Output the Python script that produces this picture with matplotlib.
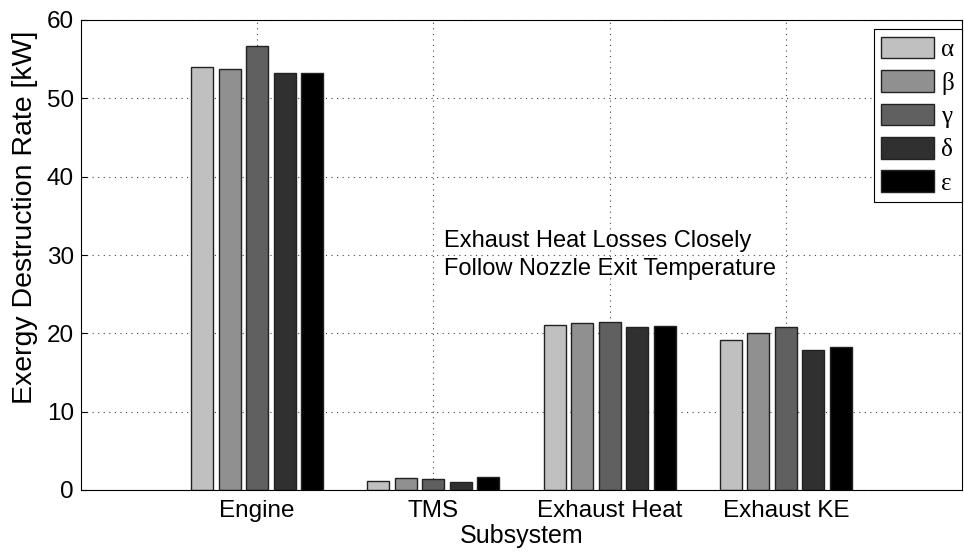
import numpy as np
import matplotlib.pyplot as plt

plt.rcParams['font.family'] = ['Liberation Sans', 'DejaVu Sans']

subsystems = ['Engine', 'TMS', 'Exhaust Heat', 'Exhaust KE']
series_names = ['α', 'β', 'γ', 'δ', 'ε']
alpha_vals = [54.0, 1.1, 21.1, 19.1]
beta_vals = [53.8, 1.5, 21.3, 20.0]
gamma_vals = [56.7, 1.4, 21.5, 20.8]
delta_vals = [53.2, 1.0, 20.8, 17.9]
eps_vals = [53.2, 1.7, 20.9, 18.2]
all_vals = [alpha_vals, beta_vals, gamma_vals, delta_vals, eps_vals]
colors = ['#c0c0c0', '#909090', '#606060', '#303030', '#000000']

fig = plt.figure(figsize=(9.64, 5.52), dpi=100)
ax = fig.add_axes([81/964, 62/552, 881/964, 470/552])

x = np.arange(1, len(subsystems) + 1)
step = 0.156
width = 0.125
for i, vals in enumerate(all_vals):
    ax.bar(x + (i - 2) * step, vals, width, color=colors[i],
           edgecolor='#222222', linewidth=1.0, label=series_names[i], zorder=2)

ax.set_xlim(0, 5)
ax.set_ylim(0, 60)
ax.set_xticks(x)
ax.set_xticklabels(subsystems)
ax.set_yticks(np.arange(0, 61, 10))
ax.tick_params(direction='in', labelsize=17.5, length=4, pad=5)
ax.tick_params(axis='x', pad=7)
ax.grid(True, linestyle=(0, (1, 4)), color='#444444', linewidth=0.8)
ax.set_axisbelow(True)
for s in ax.spines.values():
    s.set_linewidth(0.8)

ax.set_xlabel('Subsystem', fontsize=18, labelpad=2)
ax.set_ylabel('Exergy Destruction Rate [kW]', fontsize=20.5)
ax.yaxis.set_label_coords(-0.049, 0.58)

ax.text(2.06, 27.45, 'Exhaust Heat Losses Closely\nFollow Nozzle Exit Temperature',
        fontsize=17, va='baseline', ha='left', linespacing=1.33)

leg = ax.legend(loc='upper right', bbox_to_anchor=(1.0, 0.98),
                prop={'family': 'Liberation Serif', 'size': 18},
                fancybox=False, edgecolor='black', framealpha=1,
                handlelength=2.1, handleheight=0.95, handletextpad=0.3,
                labelspacing=0.36, borderpad=0.3, borderaxespad=0.0)
leg.get_frame().set_linewidth(0.8)

fig.savefig('out.png', dpi=100)
